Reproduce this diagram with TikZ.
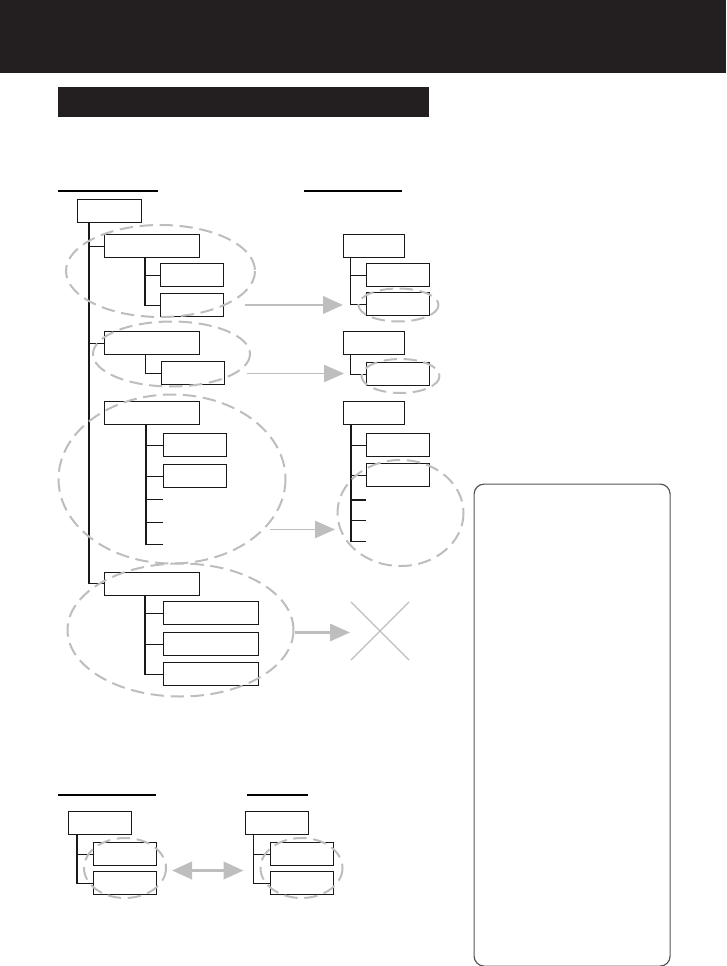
\documentclass[tikz,border=0pt]{standalone}
\usepackage{xcolor}
\usetikzlibrary{arrows.meta,positioning}
\definecolor{bandBlack}{HTML}{231F20}
\definecolor{haloGray}{HTML}{BDBDBD}
\definecolor{shiftGray}{HTML}{BEBEBE}
\definecolor{panelGray}{HTML}{555555}
\begin{document}
\begin{tikzpicture}[x=0.75pt, y=-0.75pt,
    frame/.style={draw=black!90, line width=0.8pt, inner sep=0pt, minimum height=17.25pt, anchor=north west},
    rootbox/.style={frame, minimum width=48pt},
    wbox/.style={frame, minimum width=71.25pt},
    nbox/.style={frame, minimum width=47.25pt},
    rbox/.style={frame, minimum width=45.75pt},
    tree/.style={draw=black!90, line width=0.8pt},
    halo/.style={draw=haloGray, line width=1.5pt, dash pattern=on 10pt off 5pt},
    movearrow/.style={draw=shiftGray, -{Triangle[length=15pt, width=13pt]}},
    rule/.style={draw=black, line width=0.8pt}]
  \useasboundingbox (0,0) rectangle (726,966);

  % header band and title bar
  \fill[bandBlack] (0,0) rectangle (726,73);
  \fill[bandBlack] (58,87) rectangle (429,117);

  % section rules
  \draw[rule] (58,191) -- (158,191);
  \draw[rule] (304,191) -- (402,191);
  \draw[rule] (58,795) -- (156,795);
  \draw[rule] (247,795) -- (308,795);

  % left tree
  \node[rootbox] (root) at (77,199) {};
  \node[wbox] (grpA) at (104,234) {};
  \node[nbox] (grpA1) at (160,263) {};
  \node[nbox] (grpA2) at (160,293) {};
  \node[wbox] (grpB) at (104,331) {};
  \node[nbox] (grpB1) at (161,361) {};
  \node[wbox] (grpC) at (104,401) {};
  \node[nbox] (grpC1) at (163,433) {};
  \node[nbox] (grpC2) at (163,464) {};
  \coordinate (grpC3) at (163,499.5);
  \coordinate (grpC4) at (163,522.5);
  \coordinate (grpC5) at (163,544.5);
  \node[wbox] (grpD) at (104,571.5) {};
  \node[wbox] (grpD1) at (163,601) {};
  \node[wbox] (grpD2) at (163,632) {};
  \node[wbox] (grpD3) at (163,662) {};

  \coordinate (trunk) at ([xshift=9pt]root.south west);
  \draw[tree] (trunk) |- (grpD.west);
  \foreach \n in {grpA,grpB}
    \draw[tree] (trunk |- \n.west) -- (\n.west);
  \draw[tree] ([xshift=30.75pt]grpA.south west) |- (grpA2.west);
  \draw[tree] ([xshift=30.75pt]grpA.south west |- grpA1.west) -- (grpA1.west);
  \draw[tree] ([xshift=31pt]grpB.south west) |- (grpB1.west);
  \draw[tree] ([xshift=31.5pt]grpC.south west) |- (grpC5);
  \foreach \n in {grpC1.west,grpC2.west,grpC3,grpC4}
    \draw[tree] ([xshift=31.5pt]grpC.south west |- \n) -- (\n);
  \draw[tree] ([xshift=30.75pt]grpD.south west) |- (grpD3.west);
  \foreach \n in {grpD1,grpD2}
    \draw[tree] ([xshift=30.75pt]grpD.south west |- \n.west) -- (\n.west);

  % right tree
  \node[rbox] (newA) at (343,234) {};
  \node[nbox] (newA1) at (366,263) {};
  \node[nbox] (newA2) at (366,292) {};
  \node[rbox] (newB) at (343,331) {};
  \node[nbox] (newB1) at (366,362) {};
  \node[rbox] (newC) at (343,401) {};
  \node[nbox] (newC1) at (366,433) {};
  \node[nbox] (newC2) at (366,463) {};
  \coordinate (newC3) at (366,500);
  \coordinate (newC4) at (366,520.5);
  \coordinate (newC5) at (366,541.5);

  \draw[tree] ([xshift=5.5pt]newA.south west) |- (newA2.west);
  \draw[tree] ([xshift=5.5pt]newA.south west |- newA1.west) -- (newA1.west);
  \draw[tree] ([xshift=5.5pt]newB.south west) |- (newB1.west);
  \draw[tree] ([xshift=6pt]newC.south west) |- (newC5);
  \foreach \n in {newC1.west,newC2.west,newC3,newC4}
    \draw[tree] ([xshift=6pt]newC.south west |- \n) -- (\n);

  % dashed groups
  \draw[halo] (160.5,271) ellipse [x radius=94.5, y radius=46];
  \draw[halo] (171.5,354) ellipse [x radius=78.5, y radius=32.5];
  \draw[halo] (172,479) ellipse [x radius=113.5, y radius=84.5];
  \draw[halo] (180.5,630) ellipse [x radius=113, y radius=66.5];
  \draw[halo] (398.5,305) ellipse [x radius=40, y radius=16.5];
  \draw[halo] (400.5,376) ellipse [x radius=39, y radius=17];
  \draw[halo] (400.5,513) ellipse [x radius=63, y radius=53];

  % moves
  \coordinate (fromA) at (245,305);  \coordinate (toA) at (343,305);
  \coordinate (fromB) at (247,373.5); \coordinate (toB) at (344,373.5);
  \coordinate (fromC) at (270,529.5); \coordinate (toC) at (335,529.5);
  \coordinate (fromD) at (295,632.5); \coordinate (toD) at (350,632.5);
  \draw[movearrow, line width=2.2pt] (fromA) -- (toA);
  \draw[movearrow, line width=0.9pt] (fromB) -- (toB);
  \draw[movearrow, line width=0.9pt] (fromC) -- (toC);
  \draw[movearrow, line width=1.6pt] (fromD) -- (toD);

  % dropped group
  \draw[draw=shiftGray, line width=1pt] (351,602) -- (409,660);
  \draw[draw=shiftGray, line width=1pt] (351,660) -- (409,602);

  % bottom pair
  \node[nbox] (oldTop) at (68,811) {};
  \node[nbox] (oldOne) at (93,842) {};
  \node[nbox] (oldTwo) at (93,871) {};
  \node[nbox] (swpTop) at (245,811) {};
  \node[nbox] (swpOne) at (270,842) {};
  \node[nbox] (swpTwo) at (270,871) {};
  \draw[tree] ([xshift=6.75pt]oldTop.south west) |- (oldTwo.west);
  \draw[tree] ([xshift=6.75pt]oldTop.south west |- oldOne.west) -- (oldOne.west);
  \draw[tree] ([xshift=6.25pt]swpTop.south west) |- (swpTwo.west);
  \draw[tree] ([xshift=6.25pt]swpTop.south west |- swpOne.west) -- (swpOne.west);
  \draw[halo] (125,868) ellipse [x radius=41, y radius=30];
  \draw[halo] (301.5,868) ellipse [x radius=41, y radius=30];
  \coordinate (swpL) at (172,870.5); \coordinate (swpR) at (243.5,870.5);
  \draw[movearrow, {Triangle[length=15pt, width=13pt]}-{Triangle[length=15pt, width=13pt]}, line width=2.2pt] (swpL) -- (swpR);

  % side panel
  \node[draw=panelGray, line width=0.9pt, rounded corners=7.5pt, inner sep=0pt,
        minimum width=147pt, minimum height=361.5pt, anchor=north west] (panel) at (473.5,483.5) {};
\end{tikzpicture}
\end{document}
